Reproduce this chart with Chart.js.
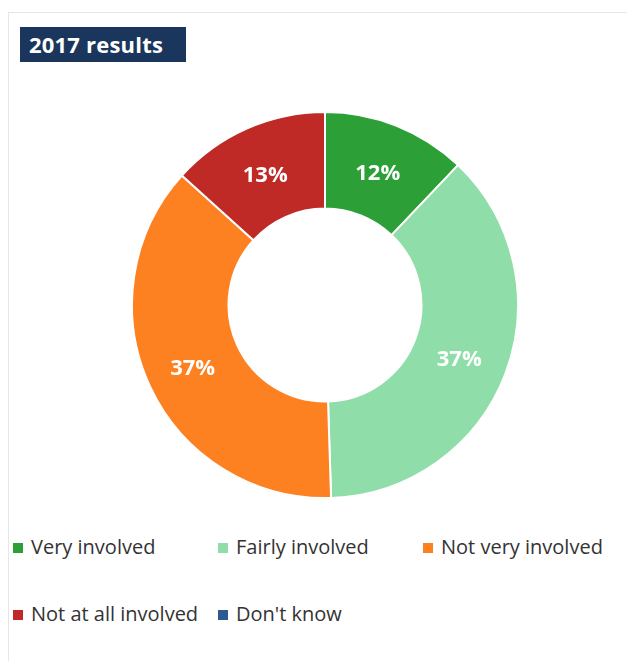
<!DOCTYPE html>
<html>
<head>
<meta charset="utf-8">
<script src="https://cdn.jsdelivr.net/npm/chart.js@4"></script>
<style>
  html, body { margin: 0; padding: 0; background: #fff; }
  body { width: 627px; height: 661px; overflow: hidden; position: relative; font-family: "Open Sans", "Noto Sans", sans-serif; }
  .frame { position: absolute; left: 8px; top: 12px; width: 640px; height: 700px; border-top: 1px solid #e6e6e6; border-left: 1px solid #e6e6e6; }
  .title { position: absolute; left: 20px; top: 27px; width: 166px; height: 35px; background: #1b365d; color: #fff; font-weight: 700; font-size: 22px; line-height: 35px; padding-left: 9px; box-sizing: border-box; letter-spacing: 0.2px; }
  .chart-box { position: absolute; left: 131px; top: 111px; width: 388px; height: 388px; }
  .legend { position: absolute; left: 13px; top: 532px; width: 620px; }
  .legend .item { position: absolute; font-size: 20px; color: #333; white-space: nowrap; line-height: 30px; }
  .legend .sw { display: inline-block; width: 10px; height: 10px; margin-right: 8px; vertical-align: 1px; }
</style>
</head>
<body>
<div class="frame"></div>
<div class="title">2017 results</div>
<div class="chart-box"><canvas id="chart" width="388" height="388"></canvas></div>
<div class="legend" id="legend"></div>
<script>
const categories = ['Very involved', 'Fairly involved', 'Not very involved', 'Not at all involved', "Don't know"];
const shares = [12.1, 37.4, 37.2, 13.3, 0];
const colors = ['#2ca037', '#8fdea9', '#fd8021', '#bf2a26', '#2e5a94'];

// draw percent labels in the middle of each ring segment
const sliceLabels = {
  id: 'sliceLabels',
  afterDatasetsDraw(chart) {
    const ctx = chart.ctx;
    const meta = chart.getDatasetMeta(0);
    ctx.save();
    ctx.fillStyle = '#fff';
    ctx.font = 'bold 22px "Open Sans", sans-serif';
    ctx.textAlign = 'center';
    ctx.textBaseline = 'middle';
    meta.data.forEach((arc, i) => {
      if (shares[i] < 3) return;
      const p = arc.tooltipPosition();
      ctx.fillText(Math.round(shares[i]) + '%', p.x - 1, p.y + 3);
    });
    ctx.restore();
  }
};

const chart = new Chart(document.getElementById('chart'), {
  type: 'doughnut',
  data: {
    labels: categories,
    datasets: [{
      data: shares,
      backgroundColor: colors,
      borderColor: '#fff',
      borderWidth: 2
    }]
  },
  options: {
    responsive: false,
    animation: false,
    cutout: '50%',
    layout: { padding: 0 },
    plugins: { legend: { display: false }, tooltip: { enabled: false } }
  },
  plugins: [sliceLabels]
});

const legend = document.getElementById('legend');
categories.forEach((name, i) => {
  const el = document.createElement('div');
  el.className = 'item';
  el.style.left = (i % 3) * 205 + 'px';
  el.style.top = Math.floor(i / 3) * 67 + 'px';
  el.innerHTML = '<span class="sw" style="background:' + colors[i] + '"></span>' + name;
  legend.appendChild(el);
});
</script>
</body>
</html>
